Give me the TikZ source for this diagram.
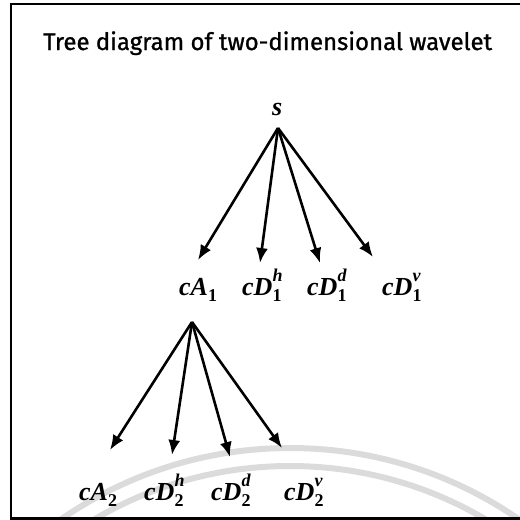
\documentclass[tikz,border=0pt]{standalone}
\usepackage{graphicx}
\usepackage{fontspec}
\setmainfont{Liberation Serif}
\newfontfamily\titlefont{Fira Sans}[FakeBold=1]
\usetikzlibrary{arrows.meta}
\newcommand{\wlab}[3]{$\hbox{#1}^{\raisebox{3pt}{\fontsize{18}{18}\selectfont\bfseries\itshape #3}}_{\hbox{\fontsize{18}{18}\selectfont\bfseries\upshape #2}}$}
\begin{document}
\begin{tikzpicture}[x=1pt,y=-1pt,
  lab/.style={anchor=base west,inner sep=0pt,font=\fontsize{26}{26}\selectfont\bfseries\itshape},
  arr/.style={line width=2.6pt,-{Latex[length=15pt,width=12pt]}},
  wm/.style={line width=6pt,draw=black!14}]
\useasboundingbox (0,0) rectangle (520,520);
% watermark arcs
\begin{scope}
\clip (12,6) rectangle (520,517);
\draw[wm] (290,851) circle (403pt);
\draw[wm] (290,851) circle (385pt);
\end{scope}
% frame
\draw[line width=2pt] (520,4) -- (11,4) -- (11,518);
\draw[line width=3pt] (10,518) -- (520,518);
% title
\node[anchor=base west,inner sep=0pt] (title) at (43,50) {\resizebox{449pt}{!}{\titlefont Tree diagram of two-dimensional wavelet}};
% root
\node[lab] (s) at (272,115) {s};
\coordinate (o1) at (278,128);
% level 1
\node[lab] (cA1) at (179,295) {\wlab{cA}{1}{}};
\node[lab] (cD1h) at (242,295) {\wlab{cD}{1}{h}};
\node[lab] (cD1d) at (307,295) {\wlab{cD}{1}{d}};
\node[lab] (cD1v) at (382,295) {\wlab{cD}{1}{v}};
\coordinate (t11) at (198,260);
\coordinate (t12) at (260,263);
\coordinate (t13) at (320,263);
\coordinate (t14) at (373,257);
\foreach \t in {t11,t12,t13,t14} \draw[arr] (o1) -- (\t);
% level 2
\coordinate (o2) at (192,322);
\node[lab] (cA2) at (79,500) {\wlab{cA}{2}{}};
\node[lab] (cD2h) at (144,500) {\wlab{cD}{2}{h}};
\node[lab] (cD2d) at (211,500) {\wlab{cD}{2}{d}};
\node[lab] (cD2v) at (284,500) {\wlab{cD}{2}{v}};
\coordinate (t21) at (110,450);
\coordinate (t22) at (172,455);
\coordinate (t23) at (230,457);
\coordinate (t24) at (282,448);
\foreach \t in {t21,t22,t23,t24} \draw[arr] (o2) -- (\t);
\end{tikzpicture}
\end{document}
